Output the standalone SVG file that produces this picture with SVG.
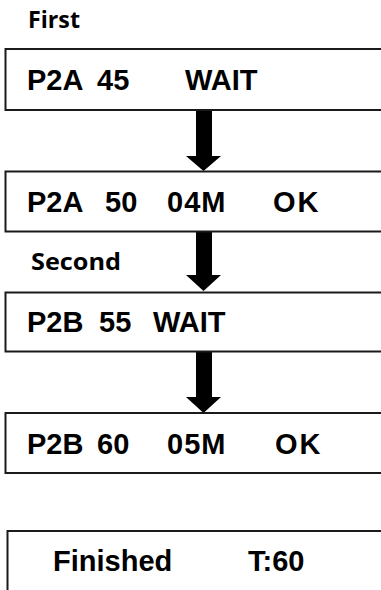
<svg xmlns="http://www.w3.org/2000/svg" width="381" height="590" viewBox="0 0 381 590">
<defs>
<style>
.box{fill:#fff;stroke:#1a1a1a;stroke-width:2}
.t{font-family:"Liberation Sans",Arial,sans-serif;font-weight:bold;font-size:29px;fill:#000}
.lbl{font-family:"Open Sans","Noto Sans",sans-serif;font-weight:bold;font-size:24px;fill:#000}
.arr{fill:#000}
.ok{letter-spacing:2px}
.m{letter-spacing:1px}
</style>
</defs>
<rect width="381" height="590" fill="#fff"/>
<text class="lbl" x="28" y="28" textLength="52" lengthAdjust="spacingAndGlyphs">First</text>
<text class="lbl" x="31" y="270" textLength="90" lengthAdjust="spacingAndGlyphs">Second</text>
<g id="connectors">
<path class="arr" d="M196,110 H212 V156 H221 L203.5,171 L186,156 H196 Z"/>
<path class="arr" d="M196,231 H212 V275 H221 L203.5,291 L186,275 H196 Z"/>
<path class="arr" d="M196,352 H212 V397 H221 L203.5,413 L186,397 H196 Z"/>
</g>
<g id="n1">
<rect class="box" x="5.5" y="49" width="400" height="61"/>
<text class="t" y="90"><tspan x="27">P2A</tspan><tspan x="97">45</tspan><tspan x="185">WAIT</tspan></text>
</g>
<g id="n2">
<rect class="box" x="5.5" y="171.5" width="400" height="60"/>
<text class="t" y="212"><tspan x="27">P2A</tspan><tspan x="105">50</tspan><tspan x="167" class="m">04M</tspan><tspan x="273" class="ok">OK</tspan></text>
</g>
<g id="n3">
<rect class="box" x="5.5" y="292.5" width="400" height="59"/>
<text class="t" y="332"><tspan x="27">P2B</tspan><tspan x="99">55</tspan><tspan x="153">WAIT</tspan></text>
</g>
<g id="n4">
<rect class="box" x="5.5" y="413" width="400" height="60"/>
<text class="t" y="454"><tspan x="27">P2B</tspan><tspan x="97">60</tspan><tspan x="167" class="m">05M</tspan><tspan x="275" class="ok">OK</tspan></text>
</g>
<g id="n5">
<rect class="box" x="7.5" y="531" width="400" height="100"/>
<text class="t" y="571"><tspan x="53">Finished</tspan><tspan x="248">T:60</tspan></text>
</g>
</svg>
